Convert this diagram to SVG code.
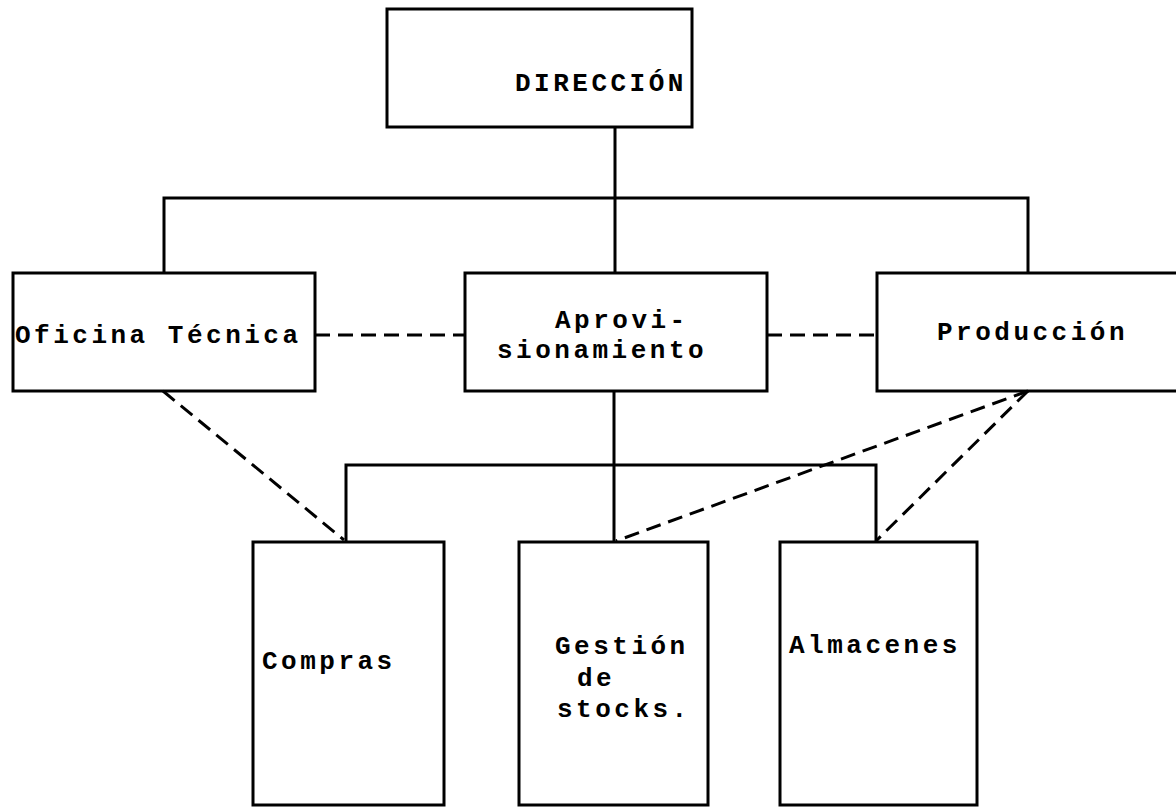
<svg xmlns="http://www.w3.org/2000/svg" width="1176" height="808" viewBox="0 0 1176 808">
<style>
.box{fill:none;stroke:#000;stroke-width:3}
.ln{fill:none;stroke:#000;stroke-width:3}
.dash{fill:none;stroke:#000;stroke-width:3;stroke-dasharray:15 8}
.t{font-family:"Liberation Mono","DejaVu Sans Mono",monospace;font-weight:bold;font-size:26px;letter-spacing:3.5px;fill:#000}
</style>
<rect width="1176" height="808" fill="#fff"/>
<g id="connectors">
<path class="ln" d="M615 127V273M164 273V198H1028V273"/>
<path class="ln" d="M614 391V542M346 542V465H876V542"/>
<path class="dash" d="M315 335H465M767 335H877"/>
<path class="dash" d="M163 391L344 540"/>
<path class="dash" d="M1028 391L616 541"/>
<path class="dash" d="M1028 391L876 541"/>
</g>
<g id="direccion"><rect class="box" x="387" y="9" width="305" height="118"/><text class="t" x="515" y="91">DIRECCIÓN</text></g>
<g id="oficina"><rect class="box" x="13" y="273" width="302" height="118"/><text class="t" x="15" y="343">Oficina Técnica</text></g>
<g id="aprov"><rect class="box" x="465" y="273" width="302" height="118"/><text class="t" x="555" y="328">Aprovi-</text><text class="t" x="497" y="358">sionamiento</text></g>
<g id="produccion"><rect class="box" x="877" y="273" width="310" height="118"/><text class="t" x="937" y="340">Producción</text></g>
<g id="compras"><rect class="box" x="253" y="542" width="191" height="263"/><text class="t" x="262" y="669">Compras</text></g>
<g id="gestion"><rect class="box" x="519" y="542" width="189" height="263"/><text class="t" x="555" y="654">Gestión</text><text class="t" x="577" y="686">de</text><text class="t" x="557" y="717">stocks.</text></g>
<g id="almacenes"><rect class="box" x="780" y="542" width="197" height="263"/><text class="t" x="789" y="653">Almacenes</text></g>
</svg>
